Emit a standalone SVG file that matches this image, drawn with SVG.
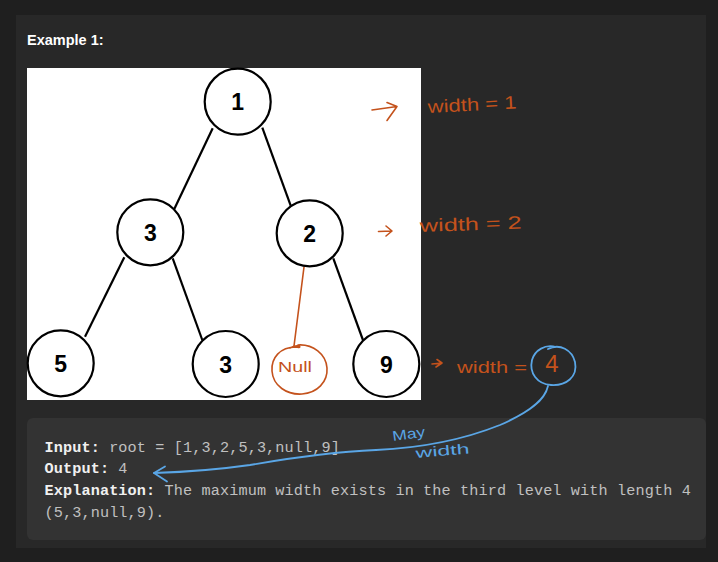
<svg xmlns="http://www.w3.org/2000/svg" width="718" height="562" viewBox="0 0 718 562">
<style>
.edge{stroke:#000;stroke-width:2.2;fill:none}
.node circle{fill:#fff;stroke:#000;stroke-width:2.2}
.node text{font-family:"Liberation Sans",Arial,sans-serif;font-weight:bold;font-size:23px;fill:#000;text-anchor:middle}
.ora{stroke:#c4521c;fill:none;stroke-width:1.6;stroke-linecap:round;stroke-linejoin:round}
.blu{stroke:#5aa6e6;fill:none;stroke-width:1.8;stroke-linecap:round;stroke-linejoin:round}
.hw{font-family:"Liberation Sans",Arial,sans-serif;fill:#c4521c}
.hwb{font-family:"Liberation Sans",Arial,sans-serif;fill:#5aa6e6;font-size:14px}
.mono{font-family:"Liberation Mono","Courier New",monospace;font-size:15.2px;letter-spacing:0.12px;fill:#c0c0c0}
.lbl{font-weight:bold;fill:#f0f0f0}
</style>
<rect x="0" y="0" width="718" height="562" fill="#1f1f1f"/>
<rect x="16" y="15" width="690" height="533" fill="#282828"/>
<text x="27" y="45" font-family="Liberation Sans,Arial,sans-serif" font-weight="bold" font-size="14.5" fill="#ffffff">Example 1:</text>
<rect x="27" y="68" width="394" height="332" fill="#ffffff"/>
<g id="connectors">
<line class="edge" x1="212.7" y1="128.3" x2="174.3" y2="209"/>
<line class="edge" x1="262.3" y1="127.7" x2="290.7" y2="205.7"/>
<line class="edge" x1="124.3" y1="257.3" x2="85" y2="336.7"/>
<line class="edge" x1="172.7" y1="258.3" x2="202.3" y2="340"/>
<line class="edge" x1="333.3" y1="258.3" x2="363.3" y2="341"/>
<path class="ora" d="M304 267 L294 346"/>
</g>
<g id="n1" class="node"><circle cx="237.7" cy="101.7" r="33"/><text x="237.7" y="110">1</text></g>
<g id="n3a" class="node"><circle cx="150.3" cy="232.3" r="33"/><text x="150.3" y="240.5">3</text></g>
<g id="n2" class="node"><circle cx="309.7" cy="233.3" r="33"/><text x="309.7" y="241.5">2</text></g>
<g id="n5" class="node"><circle cx="60.7" cy="363.3" r="33"/><text x="60.7" y="371.5">5</text></g>
<g id="n3b" class="node"><circle cx="225.7" cy="364" r="33"/><text x="225.7" y="372.5">3</text></g>
<g id="n9" class="node"><circle cx="386.3" cy="364" r="33"/><text x="386.3" y="372.5">9</text></g>
<g id="nnull">
<path class="ora" d="M290 348 C300 343 303 349 296 347 C280 347 271 358 272 371 C273 386 287 395 302 394 C317 393 328 382 327 368 C326 354 313 344 298 345"/>
<text class="hw" x="278" y="372" style="font-size:15px" textLength="34" lengthAdjust="spacingAndGlyphs">Null</text>
</g>
<g id="annot1">
<path class="ora" d="M372 110 L397 106.5 M387 102.5 L397 106.5 L387 120.5"/>
<text class="hw" x="428" y="113" style="font-size:18px" textLength="89" lengthAdjust="spacingAndGlyphs" transform="rotate(-3 428 113)">width = 1</text>
</g>
<g id="annot2">
<path class="ora" d="M378.5 231.5 L392 231 M386 226 L392 231 L386 236"/>
<text class="hw" x="420" y="232" style="font-size:18px" textLength="102" lengthAdjust="spacingAndGlyphs" transform="rotate(-2 420 232)">width = 2</text>
</g>
<g id="annot3">
<path class="ora" d="M432 364 L442 363 M437 359.5 L442 363 L436 367"/>
<text class="hw" x="457" y="373" style="font-size:17px" textLength="70" lengthAdjust="spacingAndGlyphs">width =</text>
<text class="hw" x="552" y="372" style="font-size:24px" text-anchor="middle">4</text>
<path class="blu" d="M548 349 C560 343 572 350 575 362 C578 377 566 386 551 385 C537 384 529 373 532 360 C535 350 545 344 556 347"/>
</g>
<rect x="27" y="418" width="679" height="122" rx="6" fill="#333333"/>
<g id="code">
<text class="mono" x="44.5" y="451.5"><tspan class="lbl">Input:</tspan> root = [1,3,2,5,3,null,9]</text>
<text class="mono" x="44.5" y="473"><tspan class="lbl">Output:</tspan> 4</text>
<text class="mono" x="44.5" y="495"><tspan class="lbl">Explanation:</tspan> The maximum width exists in the third level with length 4</text>
<text class="mono" x="44.5" y="517">(5,3,null,9).</text>
</g>
<g id="annot4">
<path class="blu" d="M548 386 C545 400 530 412 500 425 C460 441 420 448 376 450 C330 452 290 458 250 465 C215 470 185 472 154 473"/>
<path class="blu" d="M165 466.5 L154 473 L167 481.5"/>
<text class="hwb" x="393" y="441" textLength="33" lengthAdjust="spacingAndGlyphs" transform="rotate(-8 393 441)">May</text>
<text class="hwb" x="416" y="458" textLength="54" lengthAdjust="spacingAndGlyphs" transform="rotate(-5 416 458)">width</text>
</g>
</svg>
